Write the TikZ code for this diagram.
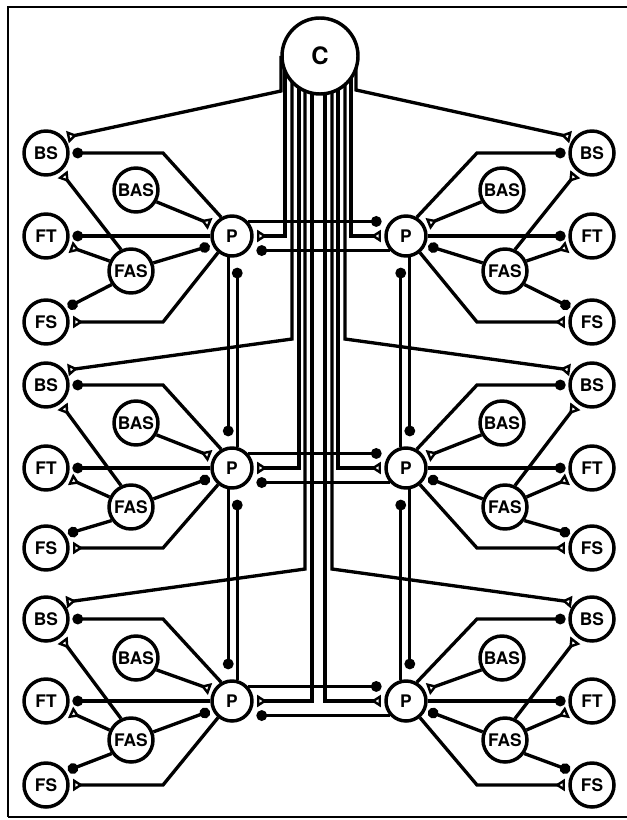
\documentclass[tikz,border=0pt]{standalone}
\usepackage{fontspec}
\setmainfont{TeX Gyre Heros}
\usetikzlibrary{arrows.meta,calc}
\pgfdeclarelayer{bg}
\pgfsetlayers{bg,main}
\begin{document}
\begin{tikzpicture}[x=0.75pt,y=-0.75pt,
  unit/.style={circle,draw,line width=2.6pt,fill=white,inner sep=0pt,minimum size=33pt,
    font=\bfseries\fontsize{13}{13}\selectfont},
  pnode/.style={unit,minimum size=30pt},
  cnode/.style={unit,minimum size=57pt,font=\bfseries\fontsize{18}{18}\selectfont},
  conn/.style={line width=2.5pt,line join=miter},
  dot/.style={conn,-{Circle[length=8pt]},shorten >=2pt},
  dotfar/.style={conn,-{Circle[length=8pt]},shorten >=7.5pt},
  tri/.style={conn,-{Triangle[open,reversed,length=7.5pt,width=9pt,line width=1.8pt]},shorten >=2.5pt},
]
\useasboundingbox (0,0) rectangle (627,820);
\draw[line width=1.8pt] (627,7) -- (8,7) -- (8,817);
\draw[line width=1.2pt] (8,817) -- (627,817);

\node[cnode] (C) at (320,56) {C};

\foreach \k/\ybs/\ybas/\yp/\yfas/\yfs in {1/153/190/236/271/322,2/385/423/468/507/548,3/619/658/701/740/785}{
  \node[unit] (LBS\k) at (46,\ybs) {BS};
  \node[unit] (LBAS\k) at (136,\ybas) {BAS};
  \node[unit] (LFT\k) at (46,\yp) {FT};
  \node[pnode] (LP\k) at (232,\yp) {P};
  \node[unit] (LFAS\k) at (131,\yfas) {FAS};
  \node[unit] (LFS\k) at (46,\yfs) {FS};
  \node[unit] (RBS\k) at (592,\ybs) {BS};
  \node[unit] (RBAS\k) at (502,\ybas) {BAS};
  \node[unit] (RFT\k) at (592,\yp) {FT};
  \node[pnode] (RP\k) at (406,\yp) {P};
  \node[unit] (RFAS\k) at (505,\yfas) {FAS};
  \node[unit] (RFS\k) at (592,\yfs) {FS};
}

\begin{pgfonlayer}{bg}
\foreach \k/\ybs/\yfs in {1/153/322,2/385/548,3/619/785}{
  % left block
  \draw[dot] (LP\k.120) -- (163,\ybs) -- (LBS\k.east);
  \draw[tri] (LBAS\k.-30) -- (LP\k.150);
  \draw[dot] (LP\k.west) -- (LFT\k.east);
  \draw[tri] (LFAS\k.155) -- (LFT\k.-25);
  \draw[tri] (LFAS\k.115) -- (LBS\k.-52);
  \draw[dot] (LFAS\k.20) -- (LP\k.205);
  \draw[dot] (LFAS\k.-145) -- (LFS\k.35);
  \draw[tri] (LP\k.-130) -- (163,\yfs) -- (LFS\k.east);
  % right block
  \draw[dot] (RP\k.60) -- (477,\ybs) -- (RBS\k.west);
  \draw[tri] (RBAS\k.210) -- (RP\k.30);
  \draw[dot] (RP\k.east) -- (RFT\k.west);
  \draw[tri] (RFAS\k.25) -- (RFT\k.205);
  \draw[tri] (RFAS\k.65) -- (RBS\k.232);
  \draw[dot] (RFAS\k.160) -- (RP\k.-25);
  \draw[dot] (RFAS\k.-35) -- (RFS\k.145);
  \draw[tri] (RP\k.-50) -- (477,\yfs) -- (RFS\k.west);
  % P <-> P across
  \draw[dot] (LP\k.42) -- (LP\k.42 -| RP\k.west);
  \draw[dot] (RP\k.-138) -- (RP\k.-138 -| LP\k.east);
}
\foreach \k/\kk in {1/2,2/3}{
  \draw[dotfar] (LP\k.-100) -- (LP\k.-100 |- LP\kk.north);
  \draw[dotfar] (LP\kk.76) -- (LP\kk.76 |- LP\k.south);
  \draw[dotfar] (RP\k.-80) -- (RP\k.-80 |- RP\kk.north);
  \draw[dotfar] (RP\kk.104) -- (RP\kk.104 |- RP\k.south);
}
% bus from C
\draw[tri] (281,56) -- (281,91) -- (LBS1.40);
\draw[tri] (292,56) -- (292,339) -- (LBS2.38);
\draw[tri] (305,56) -- (305,569) -- (LBS3.44);
\draw[tri] (285,56) -- (285,236) -- (LP1.east);
\draw[tri] (299,56) -- (299,468) -- (LP2.east);
\draw[tri] (312,56) -- (312,701) -- (LP3.east);
\draw[tri] (356,56) -- (356,90) -- (RBS1.140);
\draw[tri] (345,56) -- (345,339) -- (RBS2.142);
\draw[tri] (332,56) -- (332,569) -- (RBS3.136);
\draw[tri] (351,56) -- (351,236) -- (RP1.west);
\draw[tri] (338,56) -- (338,468) -- (RP2.west);
\draw[tri] (325,56) -- (325,701) -- (RP3.west);
\end{pgfonlayer}
\end{tikzpicture}
\end{document}
